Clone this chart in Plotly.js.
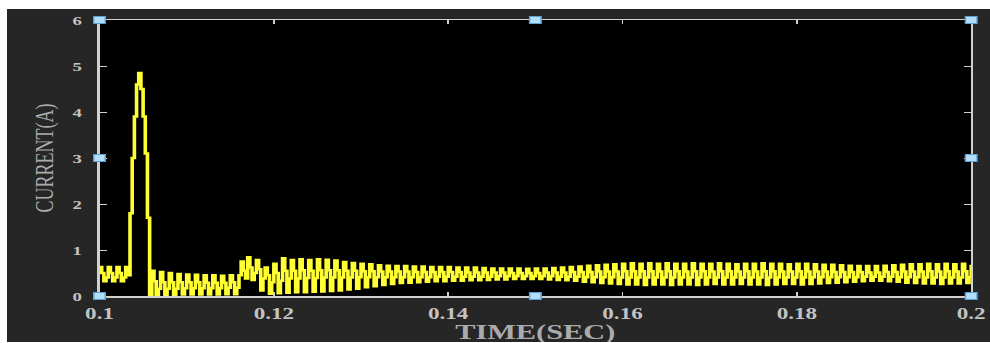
<!DOCTYPE html>
<html>
<head>
<meta charset="utf-8">
<script src="https://cdn.plot.ly/plotly-3.0.1.min.js"></script>
<style>
html,body{margin:0;padding:0;background:#ffffff;width:990px;height:343px;overflow:hidden;}
#chart{position:absolute;left:7px;top:9px;width:680px;height:333px;transform:scaleX(1.4456);transform-origin:0 0;}
</style>
</head>
<body>
<div id="chart"></div>
<script>
// Sampled current (A), one value every 0.25 ms from t = 0.1 s to 0.2 s
const tStart = 0.1;
const tStep = 0.00025;
const current = [
  0.63,0.5,0.32,0.4,   0.63,0.5,0.32,0.4,   0.63,0.5,0.32,0.4,
  0.63,0.45,1.8,3.0,   3.9,4.6,4.85,4.5,    3.9,3.1,1.7,0.0,
  0.55,0.32,0.02,0.16, 0.52,0.3,0.02,0.16,  0.5,0.3,0.02,0.16,
  0.48,0.3,0.03,0.17,  0.47,0.3,0.03,0.17,  0.46,0.3,0.03,0.17,
  0.45,0.29,0.03,0.17, 0.45,0.29,0.03,0.17, 0.44,0.29,0.04,0.18,
  0.45,0.3,0.04,0.18,  0.45,0.75,0.55,0.38, 0.84,0.62,0.35,0.5,
  0.78,0.58,0.12,0.38, 0.62,0.45,0.05,0.3,  0.7,0.5,0.06,0.33,
  0.82,0.55,0.07,0.38, 0.78,0.55,0.08,0.38, 0.8,0.56,0.08,0.39,
  0.78,0.55,0.09,0.39, 0.8,0.56,0.1,0.4,    0.79,0.56,0.11,0.4,
  0.77,0.56,0.12,0.4,  0.74,0.55,0.14,0.4,  0.72,0.55,0.16,0.41,
  0.7,0.54,0.19,0.41,  0.69,0.54,0.21,0.41, 0.67,0.53,0.24,0.41,
  0.66,0.53,0.26,0.41, 0.65,0.53,0.28,0.41, 0.65,0.53,0.29,0.41,
  0.64,0.52,0.3,0.41,  0.64,0.52,0.31,0.41, 0.63,0.52,0.32,0.42,
  0.63,0.52,0.32,0.42, 0.63,0.52,0.33,0.42, 0.62,0.52,0.33,0.42,
  0.62,0.51,0.34,0.42, 0.62,0.51,0.34,0.42, 0.61,0.51,0.35,0.42,
  0.6,0.51,0.36,0.43,  0.6,0.51,0.36,0.43,  0.6,0.5,0.37,0.43,
  0.6,0.5,0.37,0.43,   0.59,0.5,0.37,0.43,  0.6,0.5,0.37,0.43,
  0.6,0.51,0.36,0.43,  0.61,0.51,0.35,0.42, 0.62,0.51,0.34,0.42,
  0.63,0.52,0.33,0.42, 0.64,0.52,0.31,0.41, 0.66,0.52,0.3,0.41,
  0.67,0.53,0.28,0.41, 0.68,0.53,0.27,0.41, 0.69,0.53,0.26,0.4,
  0.7,0.54,0.25,0.4,   0.71,0.54,0.25,0.4,  0.7,0.54,0.24,0.4,
  0.71,0.54,0.25,0.4,  0.7,0.53,0.25,0.4,   0.71,0.54,0.24,0.4,
  0.7,0.54,0.25,0.4,   0.7,0.53,0.25,0.4,   0.71,0.54,0.24,0.4,
  0.7,0.54,0.25,0.4,   0.7,0.53,0.26,0.4,   0.71,0.54,0.25,0.4,
  0.7,0.54,0.25,0.4,   0.69,0.53,0.26,0.4,  0.7,0.54,0.25,0.4,
  0.7,0.53,0.25,0.4,   0.71,0.54,0.24,0.4,  0.7,0.54,0.25,0.4,
  0.7,0.53,0.26,0.4,   0.69,0.53,0.26,0.4,  0.7,0.54,0.25,0.4,
  0.7,0.53,0.26,0.41,  0.69,0.53,0.27,0.41, 0.68,0.53,0.28,0.41,
  0.68,0.52,0.29,0.41, 0.67,0.52,0.3,0.41,  0.66,0.52,0.31,0.41,
  0.65,0.52,0.32,0.42, 0.65,0.51,0.33,0.42, 0.65,0.51,0.33,0.42,
  0.66,0.52,0.32,0.42, 0.67,0.52,0.31,0.41, 0.68,0.53,0.29,0.41,
  0.69,0.53,0.28,0.41, 0.69,0.53,0.27,0.4,  0.7,0.54,0.27,0.4,
  0.69,0.53,0.26,0.4,  0.7,0.54,0.27,0.4,   0.69,0.53,0.27,0.4,
  0.7,0.54,0.28,0.41,
  0.68
];
const xTickVals = [0.1, 0.12, 0.14, 0.16, 0.18, 0.2];
const xTickText = ['0.1', '0.12', '0.14', '0.16', '0.18', '0.2'];
const yTickVals = [0, 1, 2, 3, 4, 5, 6];
const yTickText = ['0', '1', '2', '3', '4', '5', '6'];
const xLabel = 'TIME(SEC)';
const yLabel = 'CURRENT(A)';

const time = current.map((_, i) => +(tStart + i * tStep).toFixed(5));

const trace = {
  x: time, y: current, type: 'scatter', mode: 'lines',
  line: {color: '#ffff33', width: 2.5, shape: 'hv'},
  hoverinfo: 'skip'
};

// selection handles around the picture
const handlePos = [[0,0],[0.5,0],[1,0],[0,0.5],[1,0.5],[0,1],[0.5,1],[1,1]];
const shapes = handlePos.map(p => ({
  type: 'rect', xref: 'paper', yref: 'paper',
  xsizemode: 'pixel', ysizemode: 'pixel',
  xanchor: p[0], yanchor: p[1],
  x0: -4, x1: 4, y0: -3.5, y1: 3.5,
  fillcolor: '#b3defa', line: {color: '#5b9fd6', width: 1}, layer: 'above'
}));

const serif = 'Liberation Serif, Times New Roman, serif';
const axisFont = {family: serif, color: '#c2c2c2', weight: 'bold'};

const annotations = [
  {text: xLabel, xref: 'paper', yref: 'paper', x: 0.5, y: 0, xanchor: 'center', yanchor: 'middle',
   yshift: -35.5, showarrow: false,
   font: {family: serif, size: 21, color: '#ababab', weight: 'bold'}},
  {text: yLabel, xref: 'paper', yref: 'paper', x: 0, y: 0.5, xanchor: 'center', yanchor: 'middle',
   xshift: -38.5, textangle: -90, showarrow: false,
   font: {family: serif, size: 18, color: '#ababab'}}
];

const layout = {
  width: 680, height: 333,
  margin: {l: 64, r: 13, t: 11, b: 46},
  paper_bgcolor: '#262626', plot_bgcolor: '#000000',
  showlegend: false,
  xaxis: {
    range: [0.1, 0.2], tickmode: 'array', tickvals: xTickVals, ticktext: xTickText,
    ticks: 'inside', ticklen: 4, tickwidth: 1, tickcolor: '#d0d0d0',
    showline: true, linecolor: '#d0d0d0', linewidth: 1.5, mirror: 'ticks',
    showgrid: false, zeroline: false,
    tickfont: Object.assign({size: 16}, axisFont), ticklabelstandoff: 2
  },
  yaxis: {
    range: [0, 6], tickmode: 'array', tickvals: yTickVals, ticktext: yTickText,
    ticks: 'inside', ticklen: 5, tickwidth: 1, tickcolor: '#d0d0d0',
    showline: true, linecolor: '#d0d0d0', linewidth: 1.5, mirror: 'ticks',
    showgrid: false, zeroline: false,
    tickfont: Object.assign({size: 13}, axisFont), ticklabelstandoff: 8
  },
  annotations: annotations,
  shapes: shapes
};

Plotly.newPlot('chart', [trace], layout, {displayModeBar: false, staticPlot: true});
</script>
</body>
</html>
